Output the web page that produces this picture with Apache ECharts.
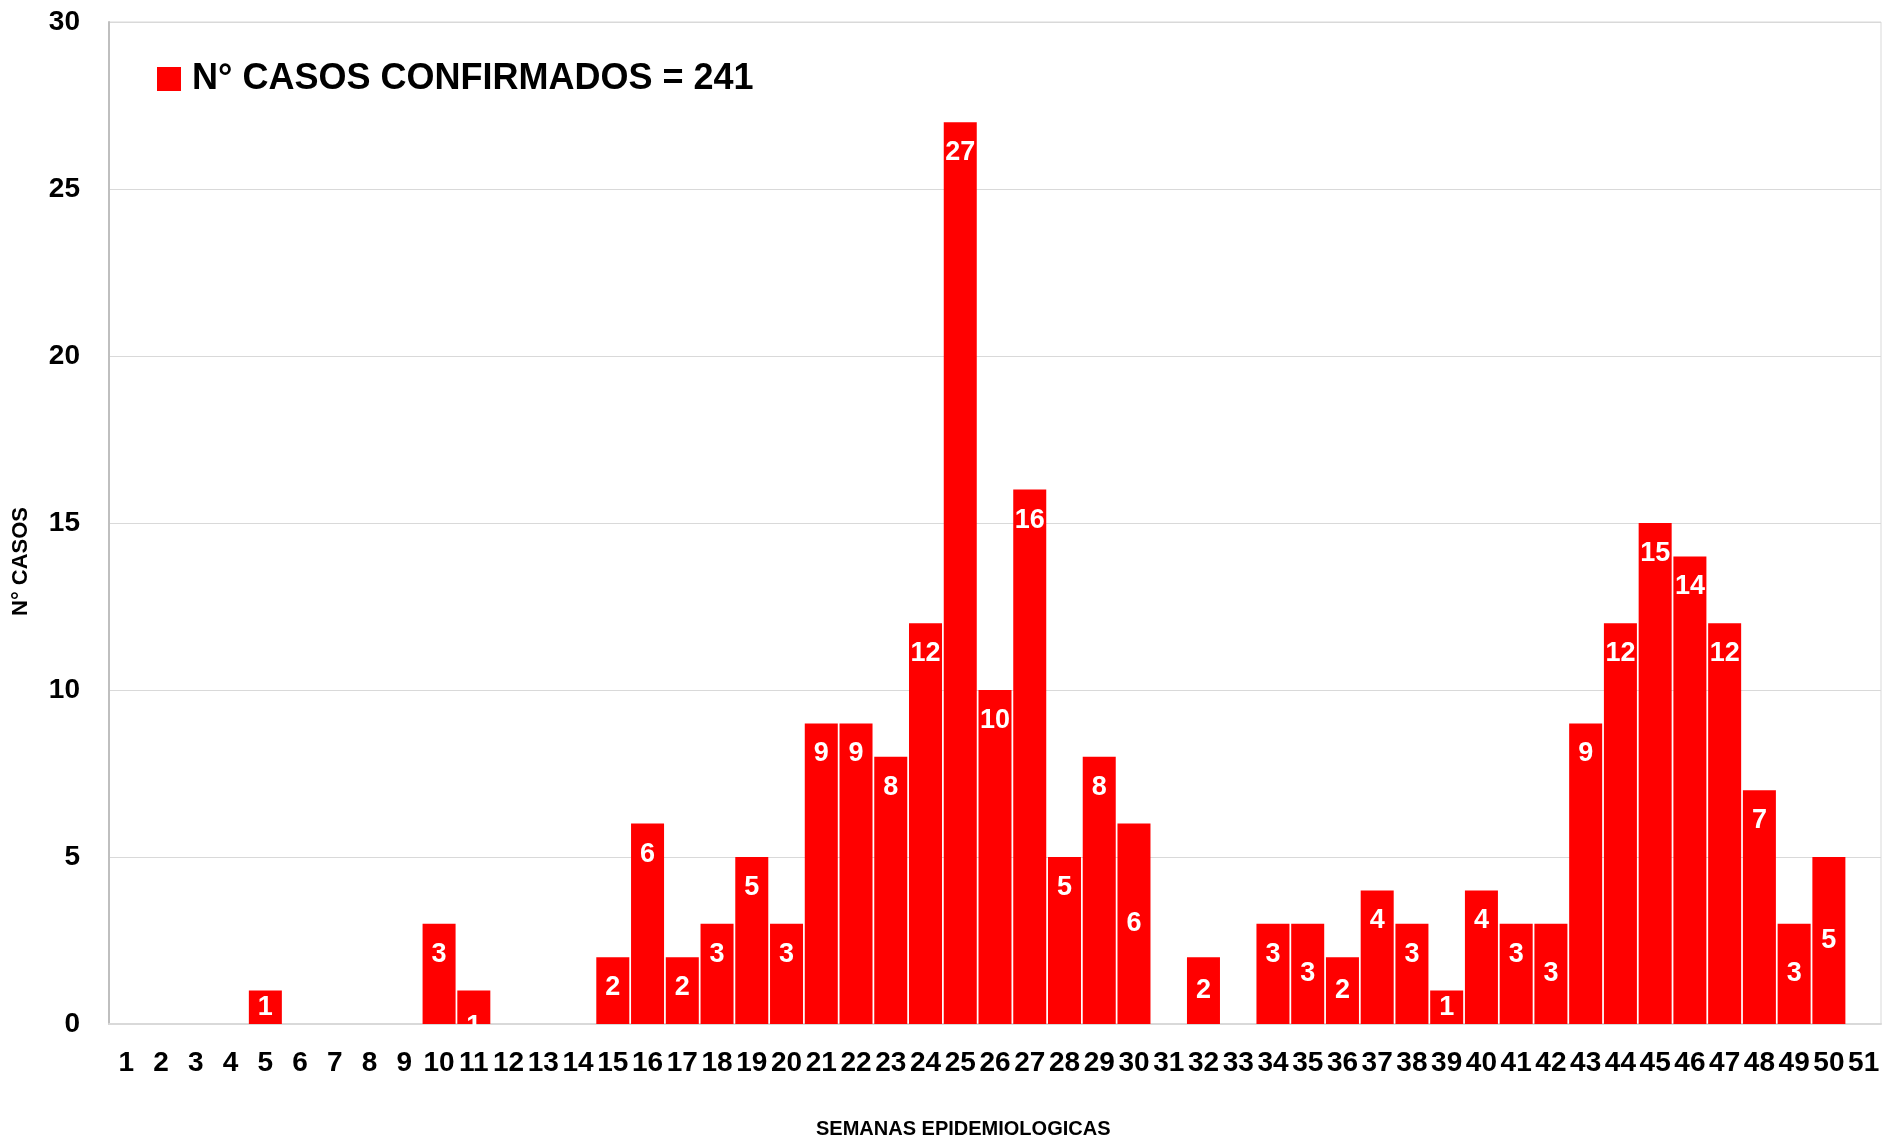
<!DOCTYPE html>
<html>
<head>
<meta charset="utf-8">
<script src="https://cdn.jsdelivr.net/npm/echarts@6/dist/echarts.min.js"></script>
<style>
html,body{margin:0;padding:0;background:#fff;}
#chart{width:1883px;height:1137px;}
</style>
</head>
<body>
<div id="chart"></div>
<script>
const weeks = ['1','2','3','4','5','6','7','8','9','10','11','12','13','14','15','16','17','18','19','20','21','22','23','24','25','26','27','28','29','30','31','32','33','34','35','36','37','38','39','40','41','42','43','44','45','46','47','48','49','50','51'];
const cases = [0,0,0,0,1,0,0,0,0,3,1,0,0,0,2,6,2,3,5,3,9,9,8,12,27,10,16,5,8,6,0,2,0,3,3,2,4,3,1,4,3,3,9,12,15,14,12,7,3,5,0];
const seriesName = 'N° CASOS CONFIRMADOS = 241';
const yTicks = [0,5,10,15,20,25,30];

// label placement style (Excel-like): centered labels for these weeks
const centeredLabelWeeks = ['5','30','32','35','36','39','42','49','50'];
const bottomLabelWeeks = ['11'];

const FONT = '"Liberation Sans", Arial, sans-serif';

const data = cases.map((v, i) => {
  const w = weeks[i];
  const item = { value: v };
  if (centeredLabelWeeks.includes(w)) item.label = { position: 'inside' };
  if (bottomLabelWeeks.includes(w)) item.label = { position: 'insideBottom', distance: -16 };
  return item;
});

const chart = echarts.init(document.getElementById('chart'));
chart.setOption({
  animation: false,
  backgroundColor: '#fff',
  grid: { left: 109, right: 2, top: 22, bottom: 113, show: true, borderColor: '#d9d9d9', borderWidth: 1 },
  legend: {
    left: 152, top: 56,
    itemWidth: 24, itemHeight: 24, itemGap: 8,
    icon: 'rect',
    textStyle: { fontFamily: FONT, fontWeight: 'bold', fontSize: 36, color: '#000', padding: [0, 0, 0, 6] },
    data: [seriesName]
  },
  xAxis: {
    type: 'category',
    data: weeks,
    axisLine: { lineStyle: { color: '#d9d9d9', width: 2 } },
    axisTick: { show: false },
    axisLabel: { interval: 0, fontFamily: FONT, fontWeight: 'bold', fontSize: 28, color: '#000', margin: 25 }
  },
  yAxis: {
    type: 'value',
    min: yTicks[0], max: yTicks[yTicks.length - 1], interval: 5,
    axisLine: { show: true, lineStyle: { color: '#bfbfbf', width: 2 } },
    axisTick: { show: false },
    splitLine: { lineStyle: { color: '#d9d9d9', width: 1 } },
    axisLabel: { fontFamily: FONT, fontWeight: 'bold', fontSize: 28, color: '#000', margin: 29 }
  },
  graphic: [
    { type: 'text', left: 816, top: 1119, style: { text: 'SEMANAS EPIDEMIOLOGICAS', font: 'bold 20px ' + FONT, fill: '#000' } },
    { type: 'text', x: 10, y: 616, rotation: Math.PI / 2, style: { text: 'N° CASOS', font: 'bold 22px ' + FONT, fill: '#000' } }
  ],
  series: [{
    name: seriesName,
    type: 'bar',
    data: data,
    barCategoryGap: '5%',
    itemStyle: { color: '#ff0000' },
    label: {
      show: true,
      position: 'insideTop',
      distance: 17,
      fontFamily: FONT, fontWeight: 'bold', fontSize: 27, color: '#fff',
      formatter: p => p.value === 0 ? '' : String(p.value)
    }
  }]
});
</script>
</body>
</html>
